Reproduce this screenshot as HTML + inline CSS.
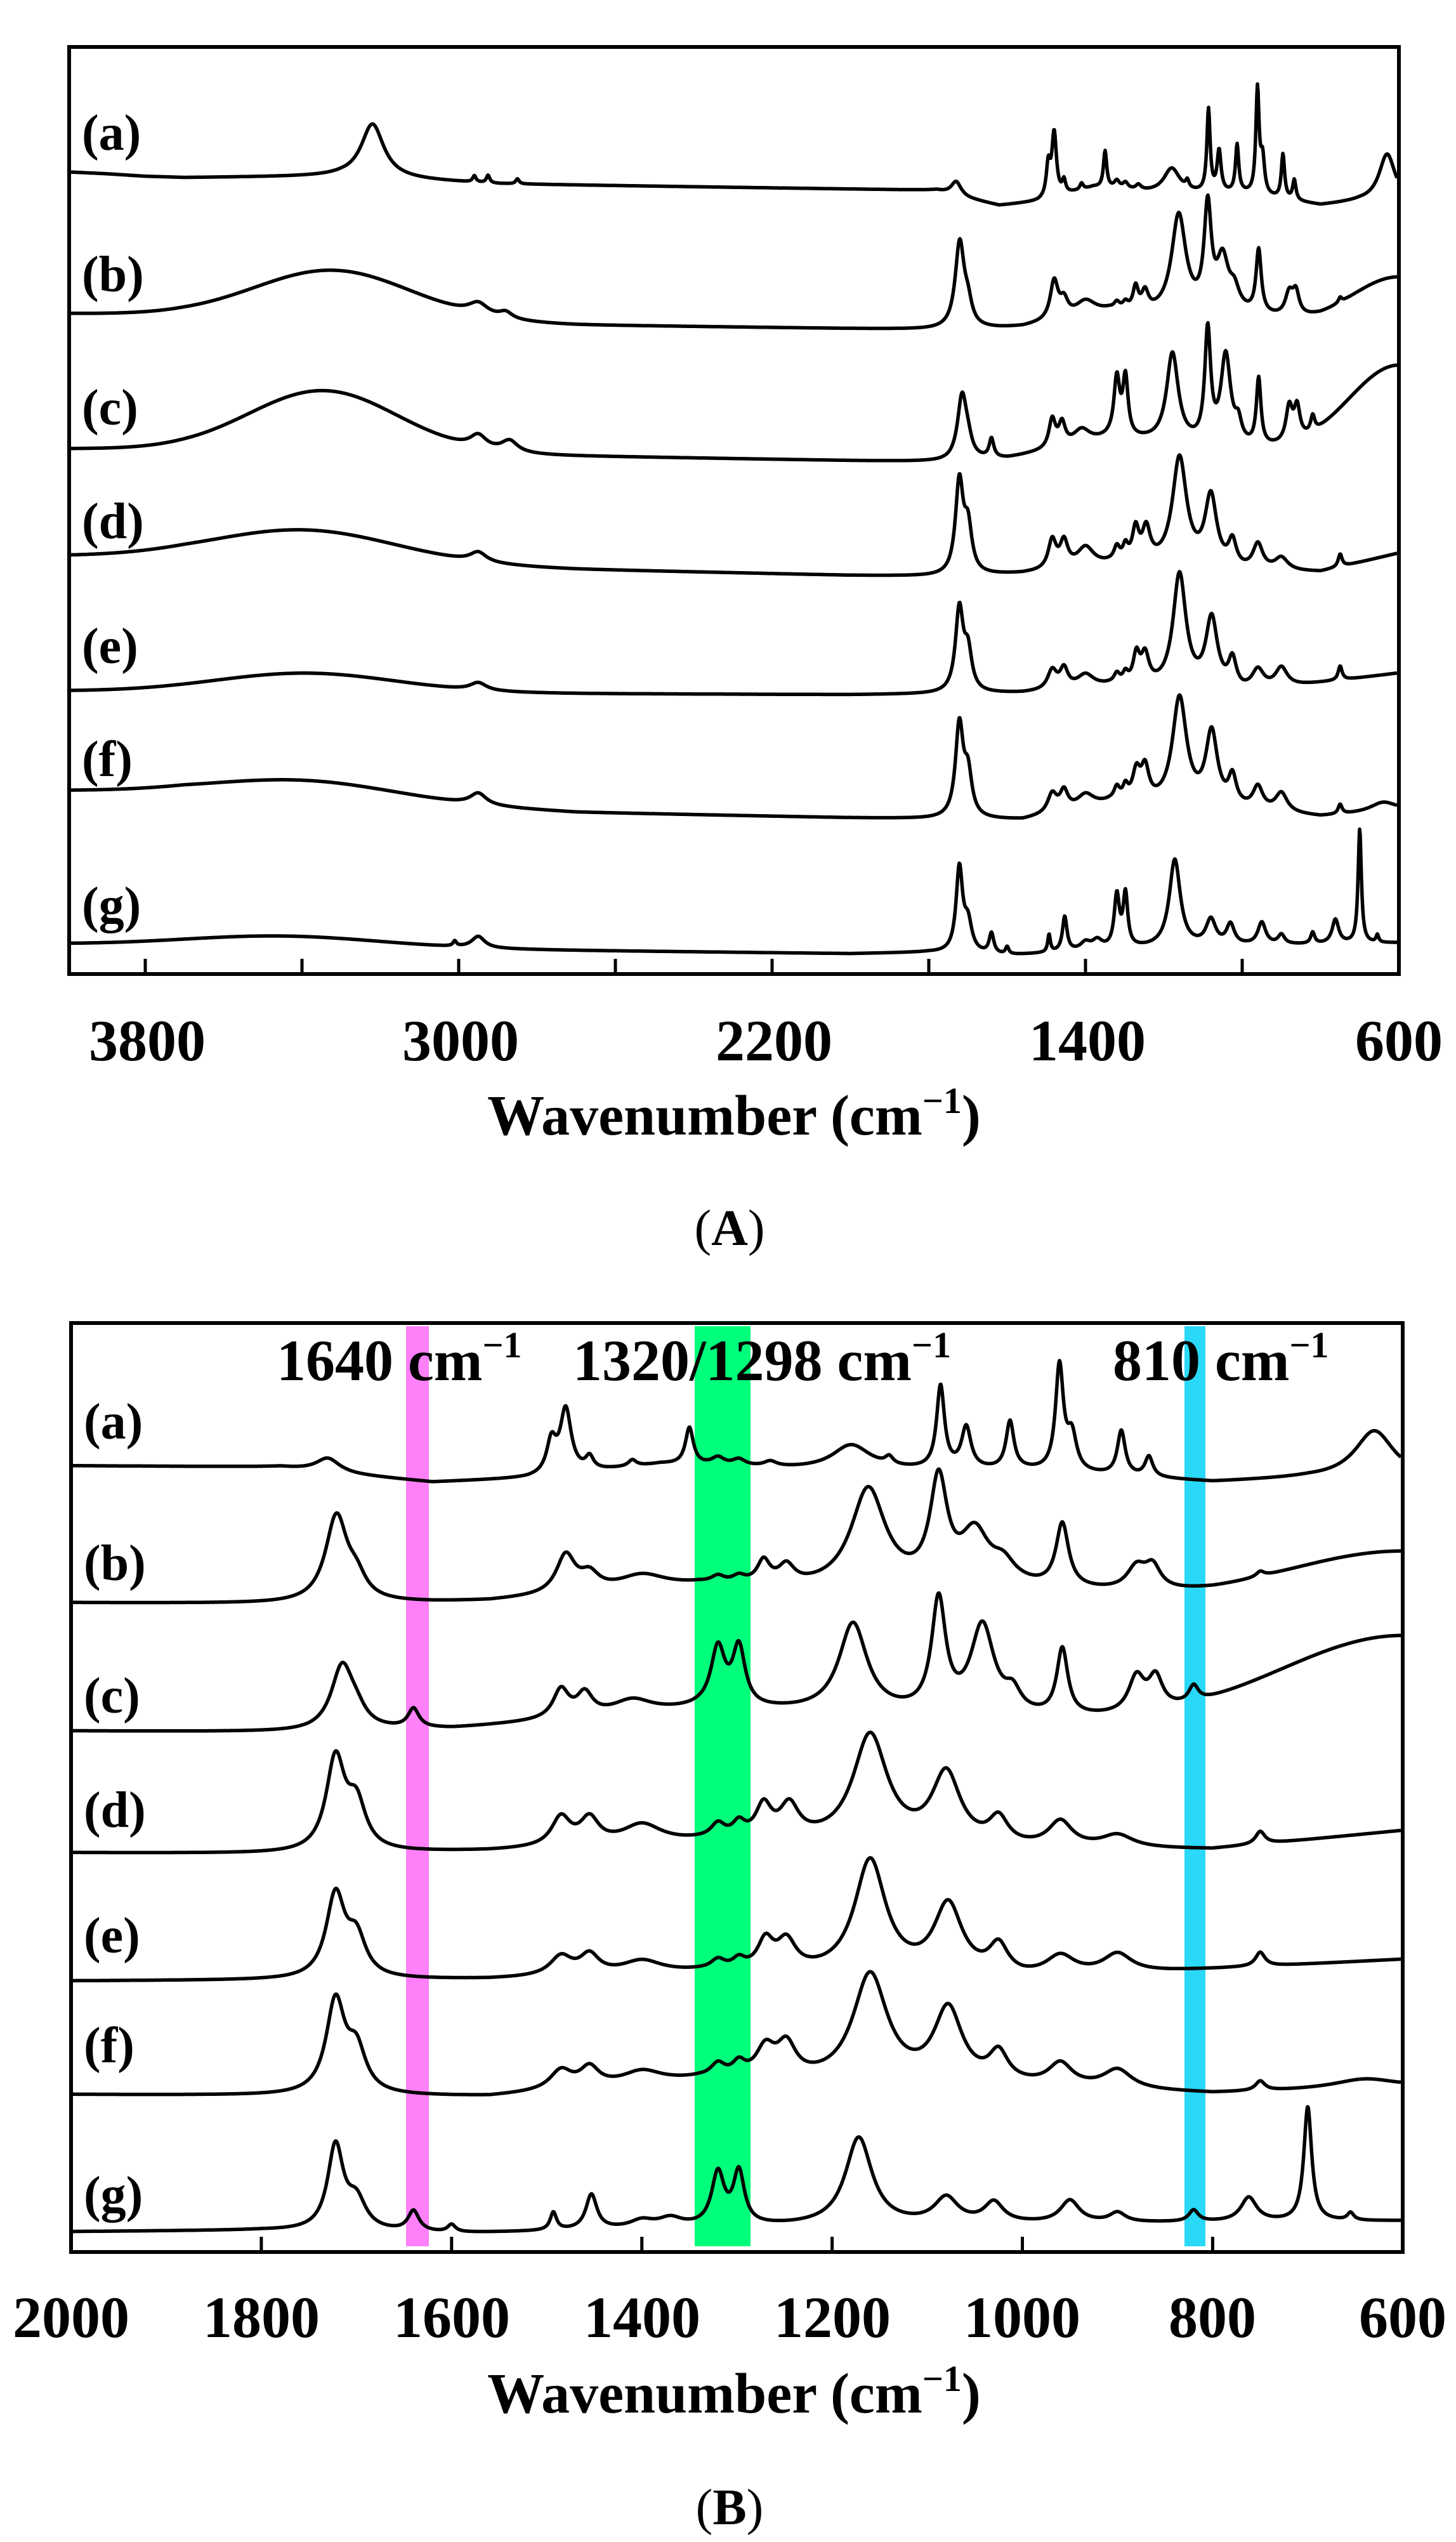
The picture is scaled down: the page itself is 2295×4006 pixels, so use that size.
<!DOCTYPE html>
<html><head><meta charset="utf-8">
<style>
html,body{margin:0;padding:0;background:#fff;}
svg{display:block;}
text{font-family:"Liberation Serif",serif;font-weight:bold;fill:#000;}
</style></head>
<body>
<svg id="s" width="2295" height="4006" viewBox="0 0 2295 4006" xmlns="http://www.w3.org/2000/svg">
<rect width="2295" height="4006" fill="#fff"/>
<g id="tracesA" fill="none" stroke="#000" stroke-width="5.5" stroke-linejoin="round"></g>
<g id="tracesB" fill="none" stroke="#000" stroke-width="5.5" stroke-linejoin="round"></g>
<g style="mix-blend-mode:multiply">
<rect x="640" y="2090" width="36" height="1450" fill="#ff80f8"/>
<rect x="1095" y="2090" width="88" height="1450" fill="#00ff7a"/>
<rect x="1867" y="2090" width="33" height="1450" fill="#2ad8f8"/>
</g>
<rect x="109" y="74" width="2096" height="1461" fill="none" stroke="#000" stroke-width="6"/>
<rect x="112" y="2085" width="2099" height="1464" fill="none" stroke="#000" stroke-width="6"/>
<g id="ticks" stroke="#000" stroke-width="5"></g>
<g font-size="80">
<text x="129" y="236">(a)</text><text x="129" y="459">(b)</text><text x="129" y="669">(c)</text>
<text x="129" y="848">(d)</text><text x="129" y="1045">(e)</text><text x="129" y="1223">(f)</text>
<text x="129" y="1453">(g)</text>
<text x="132" y="2267">(a)</text><text x="132" y="2490">(b)</text><text x="132" y="2699">(c)</text>
<text x="132" y="2879">(d)</text><text x="132" y="3077">(e)</text><text x="132" y="3250">(f)</text>
<text x="132" y="3485">(g)</text>
</g>
<g font-size="92" text-anchor="middle">
<text x="232" y="1671">3800</text><text x="726" y="1671">3000</text><text x="1220" y="1671">2200</text>
<text x="1714" y="1671">1400</text><text x="2205" y="1671">600</text>
<text x="112" y="3683">2000</text><text x="412" y="3683">1800</text><text x="712" y="3683">1600</text>
<text x="1012" y="3683">1400</text><text x="1312" y="3683">1200</text><text x="1611" y="3683">1000</text>
<text x="1911" y="3683">800</text><text x="2211" y="3683">600</text>
</g>
<g font-size="90" text-anchor="middle">
<text x="1157" y="1788">Wavenumber (cm<tspan font-size="58" dy="-34">−1</tspan><tspan dy="34">)</tspan></text>
<text x="1157" y="3802">Wavenumber (cm<tspan font-size="58" dy="-34">−1</tspan><tspan dy="34">)</tspan></text>
<text x="1150" y="1962" font-size="80"><tspan font-weight="normal">(</tspan>A<tspan font-weight="normal">)</tspan></text>
<text x="1150" y="3978" font-size="80"><tspan font-weight="normal">(</tspan>B<tspan font-weight="normal">)</tspan></text>
</g>
<g font-size="92">
<text x="436" y="2175">1640 cm<tspan font-size="58" dy="-36">−1</tspan></text>
<text x="903" y="2175">1320/1298 cm<tspan font-size="58" dy="-36">−1</tspan></text>
<text x="1754" y="2175">810 cm<tspan font-size="58" dy="-36">−1</tspan></text>
</g>
</svg>
<script>
(function(){
var NS="http://www.w3.org/2000/svg";
function interp(pts,w){
  if(w>=pts[0][0])return pts[0][1];
  for(var i=1;i<pts.length;i++){ if(w>=pts[i][0]){var a=pts[i-1],b=pts[i];return b[1]+(a[1]-b[1])*(w-b[0])/(a[0]-b[0]);} }
  return pts[pts.length-1][1];
}
function peaks(list,w){var s=0;for(var i=0;i<list.length;i++){var p=list[i];var d=(w-p[0]);
  if(p[3]==='g'){s+=p[1]*Math.exp(-d*d/(2*p[2]*p[2]));}else{s+=p[1]/(1+(d/p[2])*(d/p[2]));}}return s;}
var S=[
{A:[[4000,271],[3900,274],[3800,278],[3700,280],[3500,279],[3300,278],[2900,290],[2000,298]],
 B:[[2000,2310],[1780,2312],[1700,2325],[1620,2336],[1520,2330],[1380,2308],[1200,2318],[1000,2318],[800,2336],[700,2330],[600,2330]],
 P:[[1730,22,15],[1495,50,6],[1480,100,7],[1455,20,5],[1410,10,5],[1350,58,5],[1320,12,8],[1298,10,8],[1265,8,8],[1180,40,25],[1140,12,5],[1086,130,5],[1059,65,6],[1013,75,5],[961,165,5],[948,55,6],[896,70,5],[867,32,5],[630,75,25]],
 X:[[3220,85,35],[2960,10,5],[2925,12,5],[2850,8,5]]},
{A:[[4000,494],[3700,496],[2700,512],[2000,518]],
 B:[[2000,2526],[1750,2528],[1620,2526],[1560,2524],[1340,2500],[1230,2505],[1000,2505],[800,2520],[600,2520]],
 P:[[1721,135,14],[1700,30,12],[1480,60,12],[1455,25,12],[1400,22,30],[1320,10,8],[1298,10,8],[1272,35,8],[1248,28,10],[1162,155,22],[1088,160,11],[1050,80,18],[1020,30,15],[958,100,8],[880,35,12],[863,35,10],[750,8,5],[600,75,120,'g']],
 X:[[3320,76,200,'g'],[2950,18,30],[2880,10,20]]},
{A:[[4000,707],[3700,708],[2000,726]],
 B:[[2000,2728],[1750,2730],[1600,2725],[1340,2695],[1250,2698],[1000,2710],[820,2718],[600,2718]],
 P:[[1715,100,14],[1700,20,12],[1640,30,7],[1485,45,10],[1460,35,10],[1410,22,25],[1320,92,9],[1298,92,8],[1178,140,18],[1088,175,9],[1042,140,15],[1010,30,10],[958,105,7],[880,55,10],[860,50,9],[820,25,6],[600,140,130,'g']],
 X:[[3345,96,190,'g'],[2950,20,25],[2870,18,25]]},
{A:[[4000,876],[3700,877],[2700,897],[2000,907]],
 B:[[2000,2920],[1750,2922],[1560,2918],[1340,2905],[1230,2905],[1000,2915],[800,2915],[600,2885]],
 P:[[1722,145,12],[1700,70,12],[1485,45,12],[1455,40,12],[1400,30,25],[1320,22,9],[1298,22,8],[1272,50,10],[1245,50,12],[1160,170,22],[1080,110,18],[1025,40,12],[960,40,15],[900,20,20],[750,20,6]],
 X:[[3390,48,230,'g'],[2950,15,25]]},
{A:[[4000,1089],[2700,1093],[2000,1095]],
 B:[[2000,3122],[1560,3120],[1340,3110],[1000,3120],[600,3088]],
 P:[[1722,130,12],[1700,60,12],[1485,30,14],[1455,30,12],[1400,20,25],[1320,15,9],[1298,15,8],[1270,45,10],[1248,45,12],[1160,180,20],[1078,110,18],[1025,45,12],[960,30,18],[900,30,18],[750,22,6]],
 X:[[3390,30,230,'g'],[2950,12,25]]},
{A:[[4000,1246],[3700,1248],[2700,1280],[2000,1289]],
 B:[[2000,3301],[1560,3305],[1340,3280],[1000,3290],[800,3300],[600,3290]],
 P:[[1722,145,12],[1700,65,12],[1485,30,14],[1455,30,12],[1400,20,25],[1320,20,9],[1298,20,8],[1270,45,12],[1248,50,12],[1160,170,22],[1078,115,18],[1025,45,12],[960,35,15],[900,30,18],[750,15,6],[640,15,40]],
 X:[[3390,28,230,'g'],[2950,18,25]]},
{A:[[4000,1488],[2000,1503]],
 B:[[2000,3517],[1800,3515],[1600,3520],[1530,3518],[1300,3510],[1000,3505],[600,3500]],
 P:[[1722,132,10],[1700,45,12],[1640,32,7],[1600,12,5],[1493,28,4],[1453,55,7],[1400,12,15],[1370,14,15],[1320,82,8],[1298,82,7],[1172,138,17],[1080,40,15],[1030,32,12],[950,35,12],[900,15,10],[820,18,6],[762,38,10],[700,180,5],[655,12,4]],
 X:[[3450,17,250,'g'],[2950,18,20],[3010,8,5]]}
];
var gA=document.getElementById('tracesA'),gB=document.getElementById('tracesB');
S.forEach(function(s){
  var d="",base2000B=interp(s.B,2000),base2000A=interp(s.A,2000);
  for(var x=112;x<=2202;x+=1){
    var w=600+(2205-x)/0.6175;
    var b=(w>=2000)?interp(s.A,w):base2000A+(interp(s.B,w)-base2000B);
    var y=b-peaks(s.P,w)-peaks(s.X,w);
    d+=(x===112?"M":"L")+x+" "+y.toFixed(1);
  }
  var p=document.createElementNS(NS,'path');p.setAttribute('d',d);gA.appendChild(p);
  d="";
  for(var x=115;x<=2208;x+=1){
    var w=2000-(x-112)/1.4995;
    var y=interp(s.B,w)-peaks(s.P,w)-peaks(s.X,w);
    d+=(x===115?"M":"L")+x+" "+y.toFixed(1);
  }
  p=document.createElementNS(NS,'path');p.setAttribute('d',d);gB.appendChild(p);
});
var gt=document.getElementById('ticks');
function tick(x,y){var l=document.createElementNS(NS,'line');l.setAttribute('x1',x);l.setAttribute('x2',x);l.setAttribute('y1',y);l.setAttribute('y2',y-21);gt.appendChild(l);}
[3800,3400,3000,2600,2200,1800,1400,1000].forEach(function(w){tick(2205-(w-600)*0.6175,1532);});
[1800,1600,1400,1200,1000,800].forEach(function(w){tick(112+(2000-w)*1.4995,3546);});
})();
</script>
</body></html>
